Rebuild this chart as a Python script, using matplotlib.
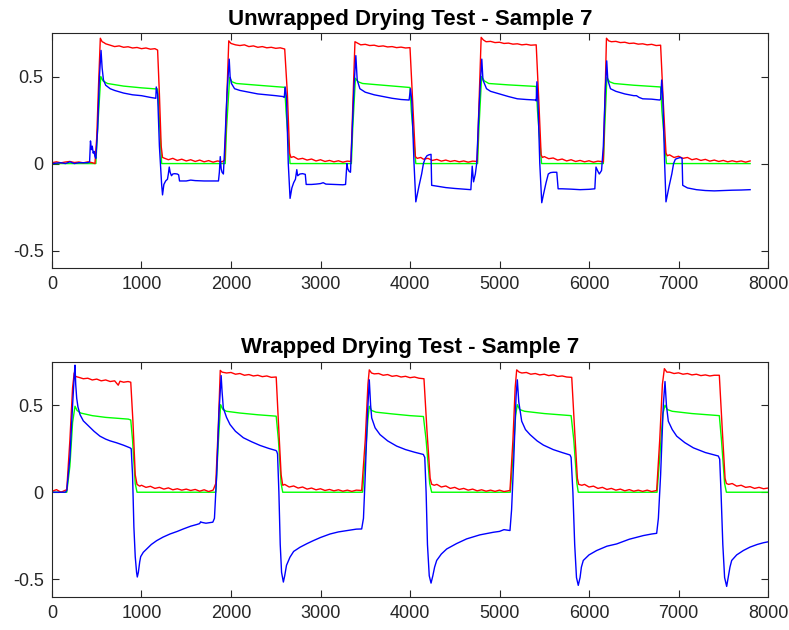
import matplotlib
matplotlib.use("Agg")
import matplotlib.pyplot as plt
from matplotlib.ticker import FixedLocator, FixedFormatter

# ---------------- Unwrapped drying test ----------------
unwrapped_red_t = [0, 50, 100, 150, 200, 250, 300, 350, 400, 450, 480,
    500, 520, 540, 560, 580, 600, 650, 700, 750, 800, 850, 900, 950, 1000, 1050, 1100, 1150, 1180,
    1200, 1220, 1235, 1260, 1300, 1350, 1400, 1450, 1500, 1550, 1600, 1650, 1700, 1750, 1800, 1850, 1900, 1930,
    1955, 1975, 2000, 2050, 2100, 2150, 2200, 2250, 2300, 2350, 2400, 2450, 2500, 2550, 2600,
    2630, 2655, 2670, 2700, 2750, 2800, 2850, 2900, 2950, 3000, 3050, 3100, 3150, 3200, 3250, 3300, 3340,
    3365, 3385, 3420, 3450, 3500, 3550, 3600, 3650, 3700, 3750, 3800, 3850, 3900, 3950, 4000,
    4030, 4060, 4080, 4120, 4150, 4200, 4250, 4300, 4350, 4400, 4450, 4500, 4550, 4600, 4650, 4700, 4750,
    4775, 4795, 4820, 4850, 4900, 4950, 5000, 5050, 5100, 5150, 5200, 5250, 5300, 5350, 5410,
    5440, 5465, 5480, 5500, 5550, 5600, 5650, 5700, 5750, 5800, 5850, 5900, 5950, 6000, 6050, 6100, 6160,
    6180, 6195, 6220, 6250, 6300, 6350, 6400, 6450, 6500, 6550, 6600, 6650, 6700, 6750, 6800,
    6830, 6860, 6875, 6900, 6950, 7000, 7050, 7100, 7150, 7200, 7250, 7300, 7350, 7400, 7450, 7500,
    7550, 7600, 7650, 7700, 7750, 7800]
unwrapped_red_v = [0.005, 0.010, 0.004, 0.009, 0.012, 0.006, 0.009, 0.004, 0.010, 0.005, 0.000,
    0.15, 0.45, 0.72, 0.700, 0.695, 0.688, 0.680, 0.672, 0.676, 0.668, 0.671, 0.664, 0.667, 0.660, 0.664, 0.657, 0.660, 0.652,
    0.40, 0.10, 0.035, 0.030, 0.022, 0.030, 0.018, 0.025, 0.015, 0.022, 0.012, 0.020, 0.010, 0.017, 0.008, 0.015, 0.010, 0.020,
    0.40, 0.705, 0.690, 0.682, 0.678, 0.682, 0.672, 0.676, 0.668, 0.672, 0.665, 0.668, 0.662, 0.665, 0.658,
    0.40, 0.06, 0.035, 0.040, 0.025, 0.030, 0.020, 0.026, 0.015, 0.022, 0.012, 0.018, 0.010, 0.016, 0.008, 0.014, 0.012,
    0.40, 0.700, 0.690, 0.682, 0.685, 0.678, 0.680, 0.673, 0.676, 0.670, 0.672, 0.666, 0.669, 0.664, 0.666,
    0.35, 0.04, 0.030, 0.035, 0.025, 0.030, 0.018, 0.024, 0.014, 0.020, 0.012, 0.017, 0.010, 0.015, 0.008, 0.014, 0.012,
    0.40, 0.725, 0.710, 0.700, 0.702, 0.695, 0.697, 0.690, 0.692, 0.686, 0.688, 0.682, 0.685, 0.680, 0.682,
    0.35, 0.05, 0.035, 0.040, 0.028, 0.032, 0.020, 0.026, 0.015, 0.022, 0.012, 0.018, 0.010, 0.016, 0.008, 0.014, 0.010,
    0.40, 0.720, 0.705, 0.700, 0.702, 0.695, 0.697, 0.690, 0.692, 0.686, 0.688, 0.682, 0.685, 0.678, 0.680,
    0.35, 0.06, 0.045, 0.050, 0.035, 0.042, 0.030, 0.035, 0.022, 0.028, 0.018, 0.024, 0.014, 0.020, 0.012, 0.018,
    0.010, 0.016, 0.010, 0.015, 0.008, 0.015]

unwrapped_green_t = [0, 490, 510, 545, 570, 620, 800, 1000, 1180, 1195, 1225,
    1935, 1950, 1985, 2010, 2060, 2300, 2600, 2615, 2660,
    3345, 3360, 3390, 3420, 3470, 3700, 4000, 4015, 4065,
    4755, 4770, 4800, 4830, 4880, 5100, 5410, 5425, 5470,
    6160, 6175, 6200, 6230, 6280, 6500, 6800, 6815, 6865, 7800]
unwrapped_green_v = [0, 0, 0.20, 0.50, 0.475, 0.46, 0.445, 0.435, 0.428, 0.30, 0,
    0, 0.20, 0.495, 0.47, 0.46, 0.45, 0.438, 0.30, 0,
    0, 0.20, 0.49, 0.47, 0.46, 0.45, 0.437, 0.30, 0,
    0, 0.20, 0.50, 0.475, 0.46, 0.452, 0.443, 0.30, 0,
    0, 0.20, 0.495, 0.47, 0.46, 0.45, 0.44, 0.30, 0, 0]

unwrapped_blue_t = [0, 100, 150, 200, 250, 300, 400, 420, 430, 440, 450, 460, 470, 480, 490,
    510, 530, 548, 560, 575, 600, 650, 700, 800, 900, 1000, 1100, 1160, 1165, 1180,
    1200, 1225, 1235, 1250, 1270, 1290, 1300, 1310, 1320, 1335, 1350, 1370, 1400, 1415, 1425,
    1500, 1550, 1600, 1700, 1800, 1860, 1870, 1880, 1890, 1900, 1915,
    1930, 1955, 1980, 1990, 2005, 2040, 2100, 2200, 2300, 2400, 2500, 2580, 2595, 2605, 2620,
    2640, 2660, 2680, 2700, 2720, 2735, 2745, 2770, 2800, 2830, 2840, 2900, 2950, 3000, 3030, 3060,
    3150, 3250, 3280, 3295, 3305, 3320, 3335,
    3355, 3375, 3395, 3410, 3440, 3500, 3600, 3700, 3800, 3900, 3990, 4005, 4020,
    4045, 4065, 4080, 4100, 4130, 4150, 4170, 4190, 4210, 4235, 4242, 4300, 4400, 4500, 4600, 4680,
    4695, 4710, 4730, 4745,
    4770, 4790, 4802, 4815, 4855, 4900, 5000, 5100, 5200, 5300, 5400, 5410, 5418, 5430,
    5450, 5472, 5490, 5520, 5545, 5570, 5600, 5640, 5655, 5700, 5800, 5900, 6000, 6065,
    6078, 6095, 6115, 6140,
    6160, 6180, 6198, 6210, 6240, 6300, 6400, 6500, 6530, 6560, 6600, 6700, 6790, 6800, 6812, 6825,
    6845, 6860, 6875, 6895, 6925, 6945, 6965, 6990, 7020, 7040, 7047,
    7100, 7200, 7300, 7400, 7500, 7600, 7700, 7800]
unwrapped_blue_v = [0, 0.005, 0, 0.010, 0, 0.005, 0.005, 0.010, 0.13, 0.08, 0.10, 0.06, 0.07, 0.04, 0.03,
    0.20, 0.50, 0.65, 0.55, 0.48, 0.45, 0.43, 0.42, 0.405, 0.395, 0.39, 0.38, 0.375, 0.44, 0.40,
    0.10, -0.12, -0.18, -0.12, -0.10, -0.09, -0.06, -0.02, -0.05, -0.07, -0.06, -0.058, -0.06, -0.065, -0.10,
    -0.10, -0.095, -0.098, -0.10, -0.10, -0.10, -0.05, 0.04, -0.03, -0.05, -0.06,
    0.10, 0.40, 0.60, 0.50, 0.46, 0.43, 0.42, 0.41, 0.40, 0.395, 0.39, 0.385, 0.38, 0.44, 0.38,
    0.0, -0.20, -0.14, -0.11, -0.09, -0.035, -0.07, -0.06, -0.058, -0.062, -0.12, -0.12, -0.118, -0.115, -0.11, -0.118,
    -0.12, -0.122, -0.12, 0.0, -0.03, -0.045, -0.05,
    0.20, 0.45, 0.62, 0.48, 0.43, 0.41, 0.395, 0.385, 0.375, 0.368, 0.365, 0.43, 0.36,
    0.0, -0.22, -0.18, -0.13, -0.06, 0.0, 0.03, 0.045, 0.05, 0.053, -0.125, -0.13, -0.138, -0.143, -0.147, -0.15,
    -0.015, -0.105, -0.06, 0.0,
    0.30, 0.50, 0.60, 0.48, 0.43, 0.415, 0.40, 0.385, 0.372, 0.368, 0.365, 0.36, 0.47, 0.35,
    0.0, -0.225, -0.18, -0.11, -0.06, -0.052, -0.05, -0.05, -0.145, -0.145, -0.147, -0.15, -0.148, -0.145,
    -0.02, -0.04, -0.06, -0.04,
    0.10, 0.40, 0.59, 0.48, 0.43, 0.415, 0.40, 0.39, 0.39, 0.38, 0.372, 0.37, 0.365, 0.37, 0.48, 0.37,
    0.0, -0.22, -0.18, -0.13, -0.06, 0.0, 0.025, 0.03, 0.035, 0.03, -0.125,
    -0.14, -0.15, -0.155, -0.157, -0.155, -0.153, -0.152, -0.15]

# ---------------- Wrapped drying test ----------------
wrapped_red_t = [0, 50, 100, 150, 165,
    200, 230, 248, 265, 300, 350, 400, 450, 500, 550, 600, 650, 700, 740, 760, 800, 850, 880,
    905, 930, 950, 980, 1000, 1050, 1100, 1150, 1200, 1250, 1300, 1350, 1400, 1450, 1500, 1550, 1600, 1650, 1700, 1750, 1800,
    1830, 1860, 1880, 1900, 1950, 2000, 2050, 2100, 2150, 2200, 2250, 2300, 2350, 2400, 2450, 2505,
    2530, 2560, 2578, 2600, 2650, 2700, 2750, 2800, 2850, 2900, 2950, 3000, 3050, 3100, 3150, 3200, 3250, 3300, 3350, 3400, 3460,
    3500, 3530, 3545, 3570, 3600, 3650, 3700, 3750, 3800, 3850, 3900, 3950, 4000, 4050, 4100, 4156,
    4190, 4225, 4242, 4270, 4300, 4350, 4400, 4450, 4500, 4550, 4600, 4650, 4700, 4750, 4800, 4850, 4900, 4950, 5000, 5050, 5117,
    5150, 5175, 5192, 5220, 5250, 5300, 5350, 5400, 5450, 5500, 5550, 5600, 5650, 5700, 5750, 5807,
    5840, 5870, 5885, 5920, 5950, 6000, 6050, 6100, 6150, 6200, 6250, 6300, 6350, 6400, 6450, 6500, 6550, 6600, 6650, 6700, 6756,
    6790, 6820, 6842, 6870, 6900, 6950, 7000, 7050, 7100, 7150, 7200, 7250, 7300, 7350, 7400, 7456,
    7490, 7520, 7535, 7560, 7600, 7650, 7700, 7750, 7800, 7850, 7900, 7950, 8000]
wrapped_red_v = [0.005, 0.015, 0.000, 0.012, 0.015,
    0.30, 0.60, 0.685, 0.665, 0.660, 0.652, 0.655, 0.645, 0.650, 0.640, 0.645, 0.636, 0.640, 0.615, 0.638, 0.632, 0.636, 0.632,
    0.40, 0.10, 0.045, 0.035, 0.040, 0.028, 0.034, 0.022, 0.028, 0.018, 0.025, 0.014, 0.020, 0.012, 0.018, 0.010, 0.016, 0.006, 0.014, 0.004, 0.012,
    0.05, 0.40, 0.700, 0.690, 0.685, 0.688, 0.678, 0.682, 0.672, 0.676, 0.668, 0.672, 0.664, 0.668, 0.660, 0.662,
    0.40, 0.10, 0.040, 0.045, 0.030, 0.036, 0.024, 0.030, 0.018, 0.024, 0.014, 0.020, 0.010, 0.016, 0.008, 0.014, 0.006, 0.012, 0.005, 0.012, 0.010,
    0.30, 0.62, 0.703, 0.685, 0.680, 0.682, 0.672, 0.676, 0.666, 0.670, 0.662, 0.666, 0.658, 0.662, 0.655, 0.652,
    0.35, 0.08, 0.046, 0.040, 0.045, 0.030, 0.036, 0.022, 0.028, 0.016, 0.022, 0.012, 0.018, 0.008, 0.014, 0.006, 0.012, 0.005, 0.012, 0.004, 0.010,
    0.30, 0.60, 0.703, 0.690, 0.685, 0.688, 0.678, 0.682, 0.674, 0.678, 0.670, 0.674, 0.665, 0.668, 0.662, 0.660,
    0.35, 0.08, 0.045, 0.040, 0.045, 0.030, 0.035, 0.022, 0.028, 0.016, 0.022, 0.012, 0.018, 0.008, 0.015, 0.006, 0.012, 0.005, 0.012, 0.004, 0.010,
    0.30, 0.62, 0.710, 0.690, 0.690, 0.682, 0.686, 0.678, 0.682, 0.674, 0.678, 0.670, 0.674, 0.668, 0.672, 0.672,
    0.35, 0.08, 0.050, 0.045, 0.050, 0.035, 0.040, 0.028, 0.032, 0.022, 0.028, 0.020, 0.024]

wrapped_green_t = [0, 165, 200, 230, 257, 280, 320, 450, 600, 853, 880, 900, 930, 950,
    1830, 1860, 1884, 1910, 1950, 2100, 2300, 2505, 2530, 2560, 2578,
    3470, 3500, 3530, 3545, 3570, 3620, 3800, 4000, 4150, 4180, 4220, 4242,
    5120, 5150, 5180, 5199, 5225, 5280, 5500, 5800, 5830, 5865, 5880,
    6760, 6790, 6825, 6849, 6875, 6930, 7150, 7456, 7480, 7515, 7535, 8000]
wrapped_green_v = [0, 0, 0.15, 0.40, 0.494, 0.47, 0.455, 0.44, 0.43, 0.42, 0.415, 0.30, 0.05, 0,
    0, 0.30, 0.503, 0.475, 0.465, 0.455, 0.445, 0.437, 0.30, 0.05, 0,
    0, 0.20, 0.42, 0.494, 0.47, 0.46, 0.45, 0.44, 0.435, 0.30, 0.05, 0,
    0, 0.20, 0.44, 0.503, 0.475, 0.465, 0.452, 0.44, 0.30, 0.05, 0,
    0, 0.20, 0.45, 0.50, 0.475, 0.465, 0.452, 0.44, 0.30, 0.05, 0, 0]

wrapped_blue_t = [0, 150, 165, 200, 230, 250, 257, 265, 276, 290, 313, 350, 410, 470, 536, 600, 650, 722, 800, 872, 885,
    900, 915, 930, 945, 953, 965, 980, 991, 1020, 1058, 1110, 1170, 1240, 1318, 1400, 1467, 1550, 1620, 1650, 1660, 1673, 1720, 1797, 1815,
    1840, 1865, 1890, 1900, 1914, 1950, 1989, 2050, 2138, 2230, 2324, 2420, 2500, 2510, 2520,
    2535, 2550, 2565, 2585, 2600, 2620, 2659, 2700, 2771, 2850, 2920, 3000, 3106, 3200, 3300, 3400, 3460, 3480,
    3500, 3525, 3545, 3560, 3572, 3610, 3665, 3750, 3851, 3950, 4050, 4149, 4165,
    4180, 4195, 4215, 4235, 4255, 4275, 4298, 4350, 4410, 4520, 4633, 4780, 4931, 5000, 5050, 5117, 5135,
    5160, 5185, 5199, 5215, 5248, 5290, 5341, 5420, 5490, 5600, 5700, 5788, 5800,
    5820, 5840, 5860, 5880, 5900, 5915, 5936, 6000, 6085, 6200, 6309, 6450, 6607, 6700, 6756, 6775,
    6800, 6830, 6849, 6865, 6886, 6930, 6980, 7070, 7166, 7300, 7445, 7460,
    7475, 7495, 7515, 7538, 7555, 7575, 7594, 7650, 7724, 7800, 7880, 7950, 8000]
wrapped_blue_v = [0, 0, 0.01, 0.20, 0.50, 0.68, 0.73, 0.62, 0.54, 0.49, 0.446, 0.41, 0.38, 0.35, 0.322, 0.305, 0.295, 0.284, 0.27, 0.255, 0.25,
    0.10, -0.20, -0.37, -0.46, -0.487, -0.46, -0.40, -0.37, -0.345, -0.326, -0.30, -0.278, -0.258, -0.24, -0.225, -0.211, -0.195, -0.185, -0.18, -0.17, -0.173, -0.178, -0.172, -0.15,
    0.10, 0.45, 0.67, 0.58, 0.484, 0.43, 0.389, 0.35, 0.313, 0.29, 0.269, 0.252, 0.24, 0.236, 0.22,
    0.0, -0.30, -0.46, -0.516, -0.48, -0.42, -0.373, -0.34, -0.316, -0.295, -0.278, -0.26, -0.24, -0.228, -0.22, -0.212, -0.211, -0.15,
    0.10, 0.45, 0.646, 0.50, 0.427, 0.37, 0.331, 0.295, 0.265, 0.245, 0.23, 0.217, 0.20,
    0.0, -0.30, -0.48, -0.522, -0.48, -0.43, -0.392, -0.355, -0.326, -0.295, -0.268, -0.245, -0.23, -0.225, -0.215, -0.22, -0.10,
    0.20, 0.55, 0.646, 0.52, 0.408, 0.36, 0.331, 0.295, 0.271, 0.245, 0.228, 0.214, 0.20,
    0.0, -0.30, -0.49, -0.535, -0.49, -0.43, -0.392, -0.36, -0.335, -0.31, -0.297, -0.27, -0.249, -0.24, -0.236, -0.15,
    0.10, 0.50, 0.636, 0.50, 0.408, 0.36, 0.322, 0.285, 0.255, 0.228, 0.208, 0.19,
    0.0, -0.30, -0.49, -0.541, -0.49, -0.43, -0.392, -0.36, -0.335, -0.315, -0.30, -0.29, -0.285]

titles = ["Unwrapped Drying Test - Sample 7", "Wrapped Drying Test - Sample 7"]
x_ticks = [0, 1000, 2000, 3000, 4000, 5000, 6000, 7000, 8000]
x_tick_labels = ["0", "1000", "2000", "3000", "4000", "5000", "6000", "7000", "8000"]
y_ticks = [-0.5, 0, 0.5]
y_tick_labels = ["-0.5", "0", "0.5"]

panels = [
    (titles[0], unwrapped_red_t, unwrapped_red_v, unwrapped_green_t, unwrapped_green_v,
     unwrapped_blue_t, unwrapped_blue_v),
    (titles[1], wrapped_red_t, wrapped_red_v, wrapped_green_t, wrapped_green_v,
     wrapped_blue_t, wrapped_blue_v),
]

plt.rcParams["font.family"] = ["Liberation Sans", "DejaVu Sans"]

fig = plt.figure(figsize=(7.89, 6.30), dpi=100)
axes_rects = [[0.0659, 0.5746, 0.9075, 0.3730], [0.0659, 0.0529, 0.9075, 0.3730]]
axis_color = "#262626"

for rect, (title, rt, rv, gt, gv, bt, bv) in zip(axes_rects, panels):
    ax = fig.add_axes(rect)
    ax.plot(gt, gv, color="#00ff00", lw=1.0)
    ax.plot(rt, rv, color="#ff0000", lw=1.0)
    ax.plot(bt, bv, color="#0000ff", lw=1.0)
    ax.set_xlim(0, 8000)
    ax.set_ylim(-0.6, 0.75)
    ax.xaxis.set_major_locator(FixedLocator(x_ticks))
    ax.xaxis.set_major_formatter(FixedFormatter(x_tick_labels))
    ax.yaxis.set_major_locator(FixedLocator(y_ticks))
    ax.yaxis.set_major_formatter(FixedFormatter(y_tick_labels))
    ax.tick_params(direction="in", top=True, right=True, length=5, width=0.8,
                   color=axis_color, labelcolor=axis_color, labelsize=13)
    ax.tick_params(axis="x", pad=6)
    ax.tick_params(axis="y", pad=6)
    for s in ax.spines.values():
        s.set_color(axis_color)
        s.set_linewidth(0.8)
    ax.set_title(title, fontsize=16, fontweight="bold", color="black", pad=6)

fig.savefig("out.png", dpi=100)
